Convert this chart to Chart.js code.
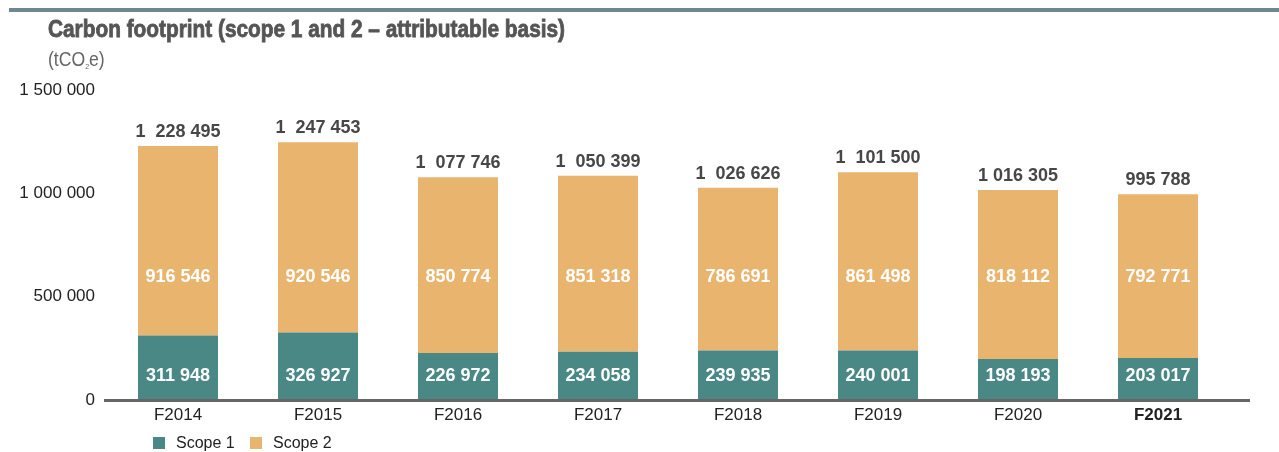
<!DOCTYPE html>
<html>
<head>
<meta charset="utf-8">
<script src="https://cdn.jsdelivr.net/npm/chart.js@4.4.1/dist/chart.umd.min.js"></script>
<style>
  html, body { margin: 0; padding: 0; background: #fff; }
  #wrap { position: relative; width: 1279px; height: 452px; }
  canvas { display: block; }
</style>
</head>
<body>
<div id="wrap"><canvas id="c" width="1279" height="452"></canvas></div>
<script>
const categories = ["F2014", "F2015", "F2016", "F2017", "F2018", "F2019", "F2020", "F2021"];
const scope1 = [311948, 326927, 226972, 234058, 239935, 240001, 198193, 203017];
const scope2 = [916546, 920546, 850774, 851318, 786691, 861498, 818112, 792771];
const totalLabels = ["1  228 495", "1  247 453", "1  077 746", "1  050 399", "1  026 626", "1  101 500", "1 016 305", "995 788"];
const yTicks = [0, 500000, 1000000, 1500000];

const FONT = "'Liberation Sans', Arial, sans-serif";
const TEAL = "#4a8886";
const ORANGE = "#e9b56e";

function fmt(v) {
  return String(v).replace(/\B(?=(\d{3})+(?!\d))/g, " ");
}

const decor = {
  id: "decor",
  beforeDraw(chart) {
    const ctx = chart.ctx;
    ctx.save();
    // top rule
    ctx.fillStyle = "#6f8790";
    ctx.fillRect(9, 8, 1270, 4);
    // title (condensed heavy look: squeeze horizontally to its width)
    const title = "Carbon footprint (scope 1 and 2 \u2013 attributable basis)";
    ctx.font = "bold 23px " + FONT;
    ctx.textBaseline = "alphabetic";
    ctx.textAlign = "left";
    const tw = ctx.measureText(title).width;
    ctx.save();
    ctx.translate(48, 37);
    ctx.scale(517 / tw, 1);
    ctx.fillStyle = "#555555";
    ctx.fillText(title, 0, 0);
    ctx.lineWidth = 0.8;
    ctx.strokeStyle = "#555555";
    ctx.strokeText(title, 0, 0);
    ctx.restore();
    // subtitle
    ctx.save();
    ctx.translate(48, 66);
    ctx.scale(0.88, 1);
    ctx.fillStyle = "#666666";
    ctx.font = "20px " + FONT;
    ctx.fillText("(tCO", 0, 0);
    const w = ctx.measureText("(tCO").width;
    ctx.font = "8px " + FONT;
    ctx.fillText("2", w, 3);
    const w2 = ctx.measureText("2").width;
    ctx.font = "20px " + FONT;
    ctx.fillText("e)", w + w2, 0);
    ctx.restore();
    ctx.restore();
  },
  afterDatasetsDraw(chart) {
    const ctx = chart.ctx;
    const y = chart.scales.y;
    ctx.save();
    // baseline
    ctx.strokeStyle = "#666666";
    ctx.lineWidth = 3;
    ctx.beginPath();
    const by = y.getPixelForValue(0);
    ctx.moveTo(104, by + 0.5);
    ctx.lineTo(1250, by + 0.5);
    ctx.stroke();

    const m0 = chart.getDatasetMeta(0);
    const m1 = chart.getDatasetMeta(1);
    ctx.textAlign = "center";
    ctx.textBaseline = "alphabetic";
    m0.data.forEach((bar, i) => {
      ctx.font = "bold 18px " + FONT;
      ctx.fillStyle = "#ffffff";
      ctx.fillText(fmt(scope1[i]), bar.x, y.getPixelForValue(92000));
      ctx.fillText(fmt(scope2[i]), bar.x, y.getPixelForValue(571000));
      const top = m1.data[i].y;
      ctx.fillStyle = "#474747";
      ctx.fillText(totalLabels[i], bar.x, top - 9);
    });

    // legend
    const ly = 443;
    ctx.textAlign = "left";
    ctx.textBaseline = "middle";
    ctx.font = "16px " + FONT;
    chart.data.datasets.forEach((ds, i) => {
      const x0 = 153 + i * 97;
      ctx.fillStyle = ds.backgroundColor;
      ctx.fillRect(x0, ly - 6, 12, 12);
      ctx.fillStyle = "#222222";
      ctx.fillText(ds.label, x0 + 23, ly + 1);
    });
    ctx.restore();
  }
};

new Chart(document.getElementById("c"), {
  type: "bar",
  data: {
    labels: categories,
    datasets: [
      { label: "Scope 1", data: scope1, backgroundColor: TEAL, barPercentage: 80 / 140, categoryPercentage: 1 },
      { label: "Scope 2", data: scope2, backgroundColor: ORANGE, barPercentage: 80 / 140, categoryPercentage: 1 }
    ]
  },
  options: {
    responsive: false,
    animation: false,
    devicePixelRatio: 1,
    layout: { padding: { left: 0, right: 51, top: 90, bottom: 0 } },
    plugins: { legend: { display: false }, tooltip: { enabled: false }, title: { display: false } },
    scales: {
      x: {
        stacked: true,
        grid: { display: false, drawTicks: false },
        border: { display: false },
        ticks: {
          padding: 5,
          color: "#222222",
          font: (ctx) => ({ family: FONT, size: 17, weight: ctx.index === categories.length - 1 ? "bold" : "normal" })
        },
        afterFit(s) { s.height = 52; }
      },
      y: {
        stacked: true,
        min: 0,
        max: 1500000,
        grid: { display: false, drawTicks: false },
        border: { display: false },
        afterBuildTicks(s) { s.ticks = yTicks.map(v => ({ value: v })); },
        ticks: {
          padding: 13,
          color: "#222222",
          font: { family: FONT, size: 17 },
          callback: (v) => fmt(v)
        },
        afterFit(s) { s.width = 108; }
      }
    }
  },
  plugins: [decor]
});
</script>
</body>
</html>
